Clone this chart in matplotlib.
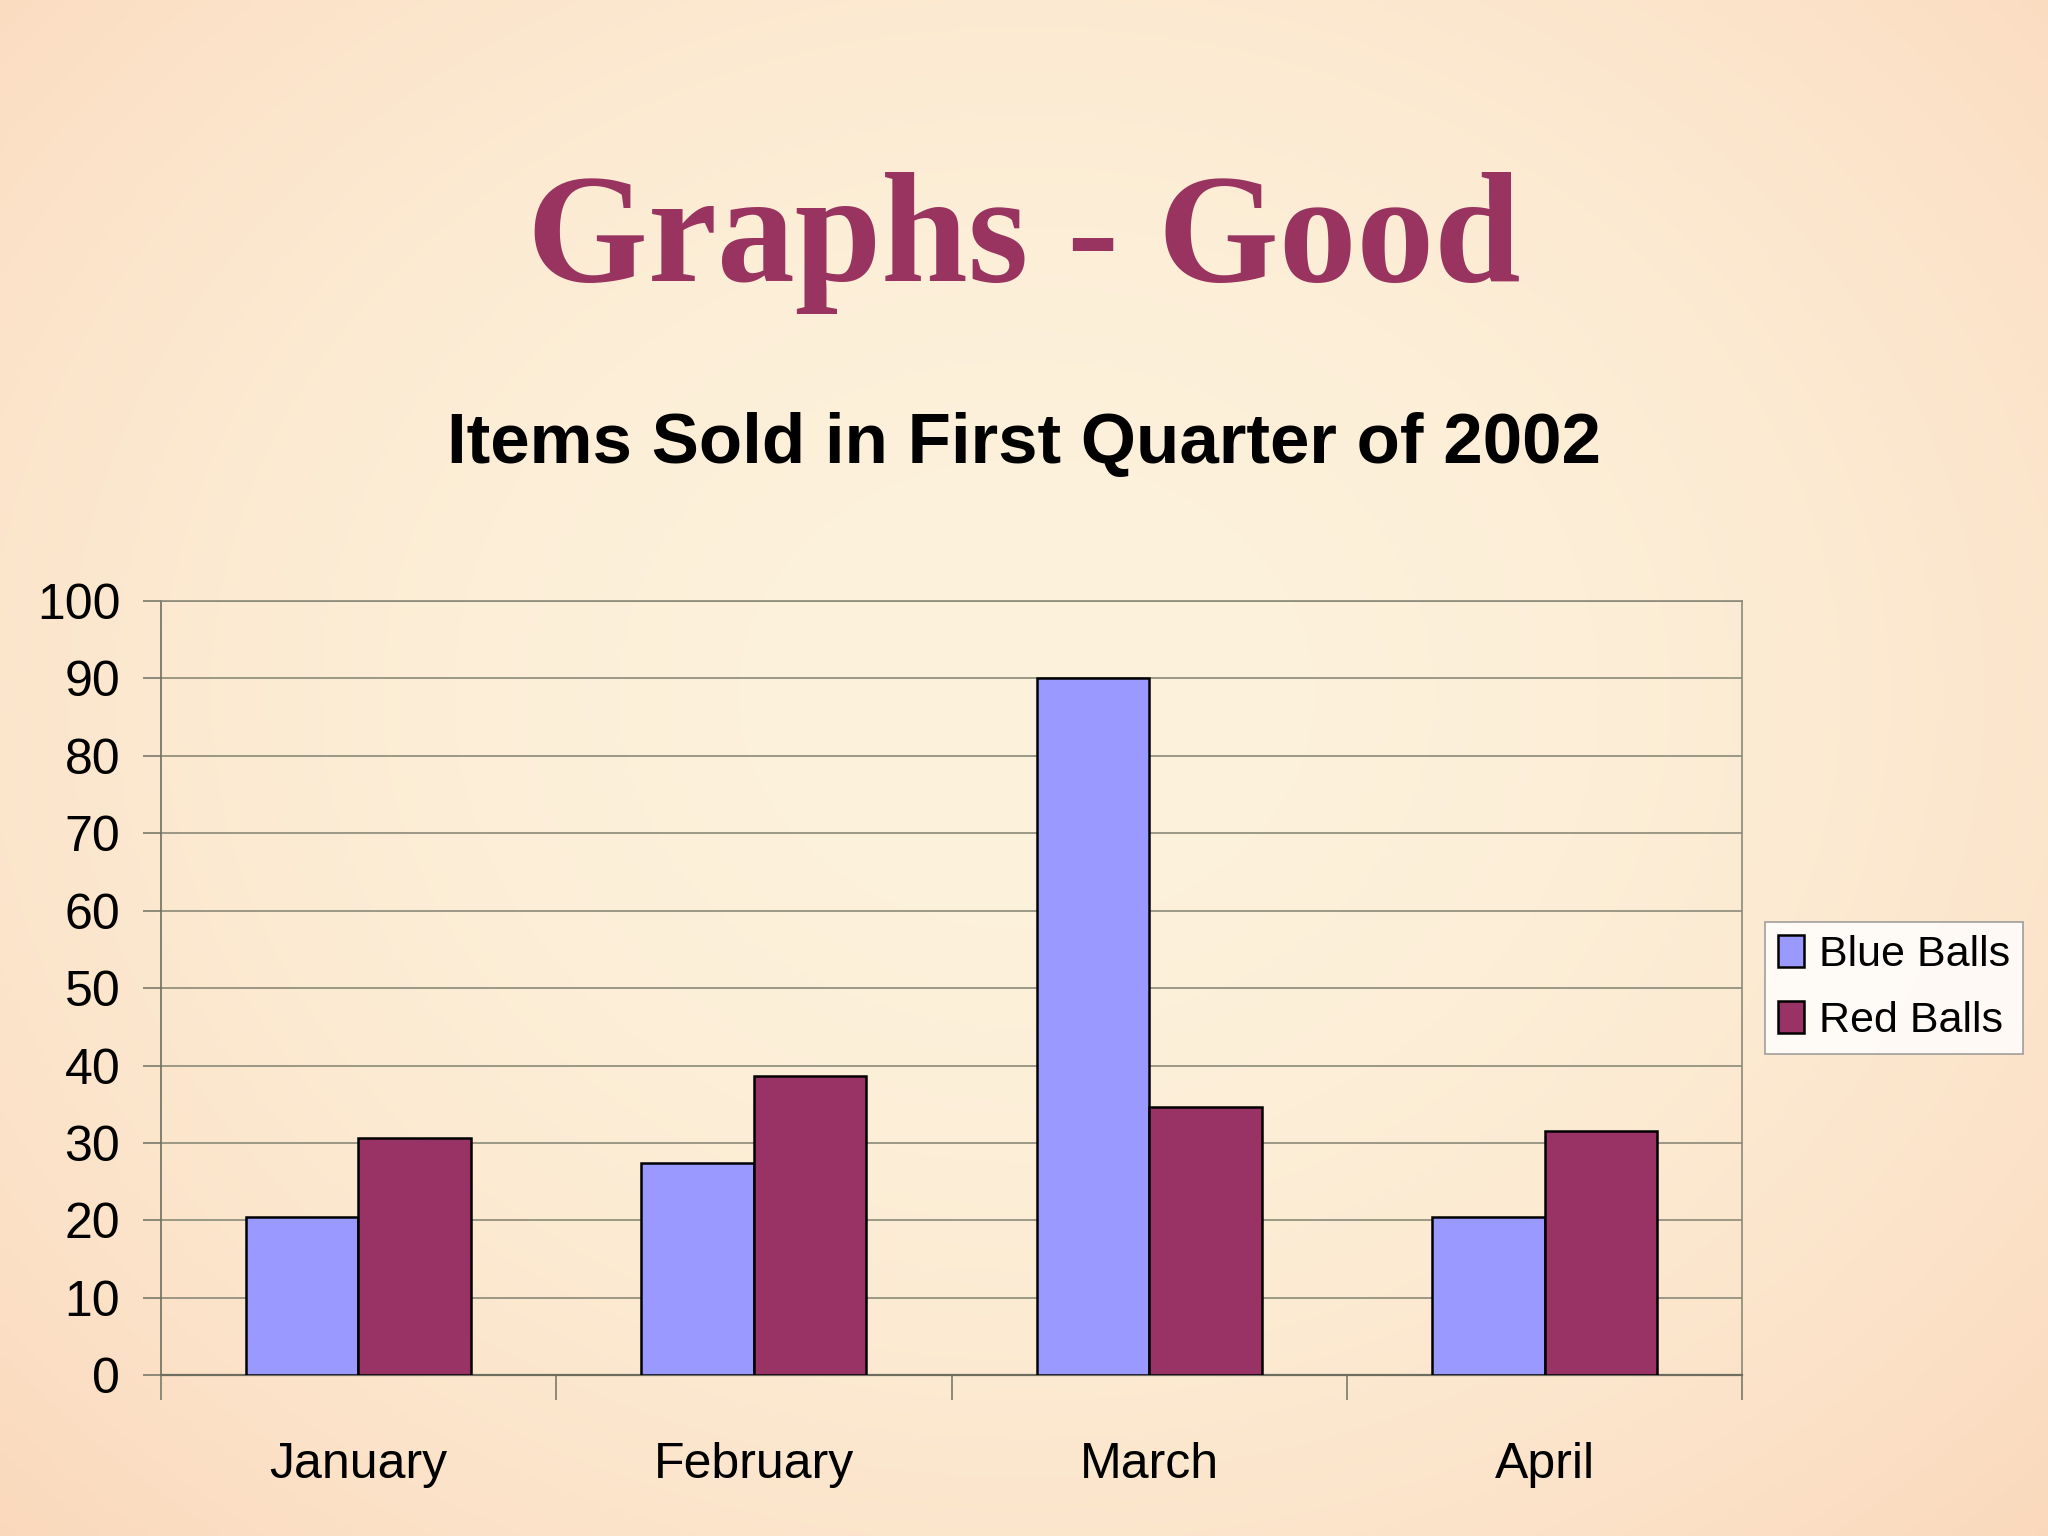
import numpy as np
import matplotlib
matplotlib.use("Agg")
import matplotlib.pyplot as plt
from matplotlib.patches import Patch

# ---- data ----
months = ["January", "February", "March", "April"]
blue_balls = [20.4, 27.4, 90, 20.4]
red_balls = [30.6, 38.6, 34.6, 31.6]
series_names = ["Blue Balls", "Red Balls"]
y_ticks = [0, 10, 20, 30, 40, 50, 60, 70, 80, 90, 100]

BLUE = "#9999FF"
RED = "#993366"
TITLE_COLOR = "#993360"

fig = plt.figure(figsize=(20.48, 15.36), dpi=100)

# background gradient (styling only)
bg = fig.add_axes([0, 0, 1, 1], zorder=-10)
h, w = 300, 400
yy, xx = np.mgrid[0:h, 0:w]
r = np.sqrt(((xx - w * 0.5) / (w * 0.55)) ** 2 + ((yy - h * 0.45) / (h * 0.6)) ** 2)
r = np.clip(r, 0, 1.4) / 1.4
c0 = np.array([253, 242, 220]) / 255.0
c1 = np.array([250, 212, 182]) / 255.0
img = c0[None, None, :] * (1 - r[..., None] ** 2) + c1[None, None, :] * (r[..., None] ** 2)
bg.imshow(img, aspect="auto", extent=[0, 1, 0, 1], interpolation="bilinear")
bg.set_axis_off()

# titles
fig.text(0.5, 1 - 215 / 1176, "Graphs - Good", ha="center", va="baseline",
         fontsize=112, fontweight="bold", family="Liberation Serif",
         color=TITLE_COLOR)
fig.text(0.5, 0.710, "Items Sold in First Quarter of 2002", ha="center",
         va="center", fontsize=51, fontweight="bold",
         family="Liberation Sans", color="black")

ax = fig.add_axes([0.0784, 0.1046, 0.8508 - 0.0784, 0.6088 - 0.1046])
ax.patch.set_alpha(0)
x = np.arange(len(months))
bw = 0.284
ax.bar(x - bw / 2, blue_balls, bw, color=BLUE, edgecolor="black",
       linewidth=1.8, label=series_names[0], zorder=3)
ax.bar(x + bw / 2, red_balls, bw, color=RED, edgecolor="black",
       linewidth=1.8, label=series_names[1], zorder=3)

ax.set_xlim(-0.5, len(months) - 0.5)
ax.set_ylim(0, 100)
ax.set_yticks(y_ticks)
ax.set_yticklabels([str(t) for t in y_ticks], family="Liberation Sans",
                   fontsize=36)
ax.set_xticks(x)
ax.set_xticklabels(months, family="Liberation Sans", fontsize=36)
ax.set_xticks(np.arange(-0.5, len(months)), minor=True)
ax.tick_params(axis="x", which="major", length=0, pad=48)
ax.tick_params(axis="x", which="minor", length=18, width=1.2, color="#7a7a6a")
ax.tick_params(axis="y", which="major", length=13, width=1.2, color="#7a7a6a",
               pad=16)
ax.grid(axis="y", color="#8a8a78", linewidth=1.2, zorder=1)
for s in ax.spines.values():
    s.set_color("#8a8a78")
    s.set_linewidth(1.2)
ax.spines["left"].set_color("#6e6e60")
ax.spines["bottom"].set_color("#6e6e60")
ax.spines["bottom"].set_linewidth(1.6)

handles = [Patch(facecolor=BLUE, edgecolor="black", linewidth=1.8),
           Patch(facecolor=RED, edgecolor="black", linewidth=1.8)]
leg = fig.legend(handles, series_names, loc="upper left",
                 bbox_to_anchor=(0.862, 0.3997), frameon=True,
                 fancybox=False, prop={"family": "Liberation Sans", "size": 31},
                 handlelength=0.6, handleheight=0.75, handletextpad=0.35,
                 borderpad=0.3, labelspacing=0.6, borderaxespad=0)
leg.get_frame().set_facecolor("white")
leg.get_frame().set_edgecolor("#8a8a8a")
leg.get_frame().set_linewidth(1.2)

fig.savefig("out.png", dpi=100)
